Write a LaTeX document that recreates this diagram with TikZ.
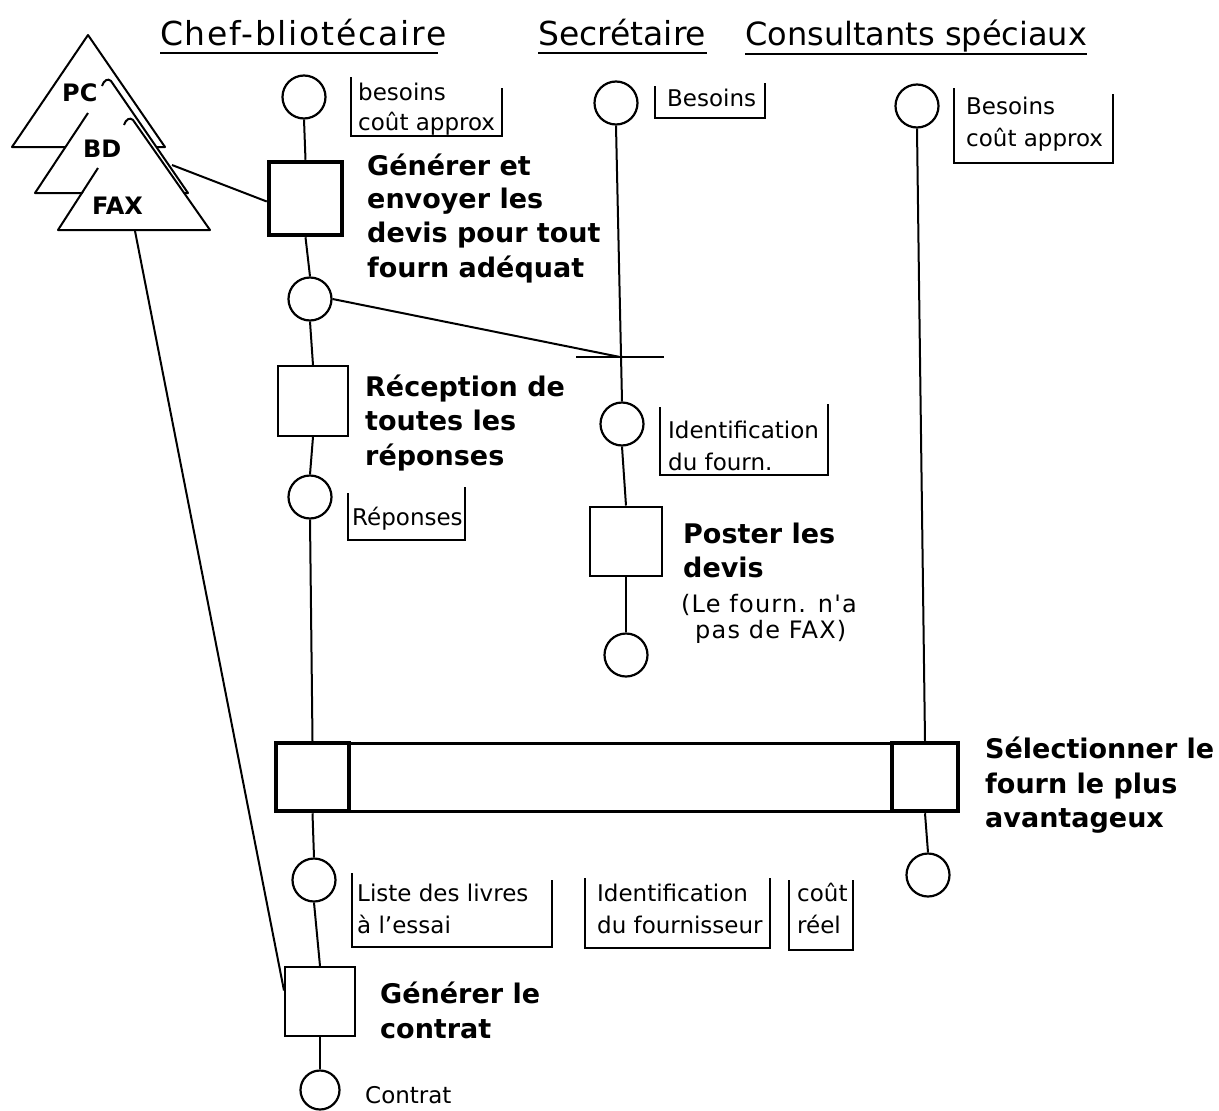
\documentclass[tikz,border=0pt]{standalone}
\usepackage{fontspec}
\setmainfont{DejaVu Sans}
\newfontfamily\widefont[LetterSpace=5]{DejaVu Sans}
\newfontfamily\hdrfont[LetterSpace=5.4]{DejaVu Sans}
\newcommand\myreg{\fontsize{23}{28}\selectfont}
\newcommand\mybold{\fontsize{27}{34}\selectfont\bfseries}
\newcommand\myhdr{\fontsize{33}{40}\selectfont}
\newcommand\myhdrw{\hdrfont\fontsize{33}{40}\selectfont}
\newcommand\myhdrs{\fontsize{32}{40}\selectfont}
\newcommand\mytri{\fontsize{24}{28}\selectfont\bfseries}
\newcommand\mywide{\widefont\fontsize{24}{30}\selectfont}
\begin{document}
\begin{tikzpicture}[x=1pt,y=-1pt,
  ln/.style={line width=2pt},
  tri/.style={line width=2pt,line join=round},
  circ/.style={circle,draw,line width=2.2pt,minimum size=43pt,inner sep=0pt,fill=white},
  actbox/.style={rectangle,draw,line width=2pt,inner sep=0pt,fill=white},
  thickbox/.style={actbox,line width=4.5pt},
  tag/.style={line width=1.6pt},
  reg/.style={font=\myreg,anchor=base west,inner sep=0pt},
  wide/.style={font=\mywide,anchor=base west,inner sep=0pt},
  bld/.style={font=\mybold,anchor=base west,inner sep=0pt},
  trl/.style={font=\mytri,anchor=base west,inner sep=0pt},
  hdr/.style={font=\myhdr,anchor=base west,inner sep=0pt},
  hdrw/.style={font=\myhdrw,anchor=base west,inner sep=0pt},
  hdrs/.style={font=\myhdrs,anchor=base west,inner sep=0pt}
]
\useasboundingbox (0,0) rectangle (1219,1111);

% headers
\node[hdrw] (h1) at (160,45) {Chef-bliotécaire};
\node[hdr] (h2) at (538,45) {Secrétaire};
\node[hdrs] (h3) at (745,45) {Consultants spéciaux};
\draw[line width=1.6pt] (160,53) -- (438,53);
\draw[line width=1.6pt] (538,53) -- (707,53);
\draw[line width=1.6pt] (745,54) -- (1087,54);

% triangles (PC, BD, FAX)
\filldraw[tri,fill=white] (88,35) -- (12,147) -- (165,147) -- cycle;
\fill[white] (111,81) -- (35,193) -- (188,193) -- cycle;
\draw[tri] (88,113) -- (35,193) -- (188,193) -- (111,81) .. controls (108,78) and (104,80) .. (102,86);
\fill[white] (133,120) -- (58,230) -- (210,230) -- cycle;
\draw[tri] (98,168) -- (58,230) -- (210,230) -- (133,120) .. controls (130,117) and (126,119) .. (124,125);
\node[trl] (tpc) at (62,101) {PC};
\node[trl] (tbd) at (83,157) {BD};
\node[trl] (tfax) at (92,214) {FAX};
\coordinate (bde) at (172,165);
\coordinate (faxb) at (135,231);

% lane 1 nodes
\node[circ] (c1) at (304,97) {};
\node[thickbox,minimum width=73pt,minimum height=73pt] (sq1) at (305.5,198.5) {};
\node[circ] (c2) at (310,299) {};
\node[actbox,minimum width=70pt,minimum height=70pt] (sq2) at (313,401) {};
\node[circ] (c3) at (310,497) {};

% lane 2 nodes
\node[circ] (s1) at (616,103) {};
\node[circ] (s2) at (622,424) {};
\node[actbox,minimum width=72pt,minimum height=69pt] (sqp) at (626,541) {};
\node[circ] (s3) at (626,655) {};
\coordinate (tk) at (620,357);

% lane 3 nodes
\node[circ] (k1) at (917,106) {};

% bar
\node[actbox,line width=3pt,minimum width=682pt,minimum height=68pt] (bar) at (617,777) {};
\node[thickbox,minimum width=73pt,minimum height=68pt] (barL) at (312.5,777) {};
\node[thickbox,minimum width=66pt,minimum height=68pt] (barR) at (925,777) {};

% below bar
\node[circ] (c4) at (314,880) {};
\node[actbox,minimum width=70pt,minimum height=69pt] (sqc) at (320,1001.5) {};
\node[circ,minimum size=39pt] (c5) at (320,1090) {};
\node[circ] (k2) at (928,875) {};

% connectors
\draw[ln] (c1.south) -- (sq1.north);
\draw[ln] (sq1.south) -- (c2.north);
\draw[ln] (c2.south) -- (sq2.north);
\draw[ln] (sq2.south) -- (c3.north);
\draw[ln] (c3.south) -- (barL.north);
\draw[ln] (barL.south) -- (c4.north);
\draw[ln] (c4.south) -- (sqc.north);
\draw[ln] (sqc.south) -- (c5.north);
\draw[ln] (s1.south) -- (s2.north);
\draw[ln] (s2.south) -- (sqp.north);
\draw[ln] (sqp.south) -- (s3.north);
\draw[ln] (k1.south) -- (barR.north);
\draw[ln] (barR.south) -- (k2.north);
\draw[ln] (c2.east) -- (tk);
\draw[line width=1.8pt] ([xshift=-44pt]tk) -- ([xshift=44pt]tk);
\draw[ln] (bde) -- ([yshift=-3pt]sq1.west);
\draw[ln] (faxb) -- ([yshift=11pt]sqc.west);

% label brackets
\draw[tag] (351,77) -- (351,136) -- (502,136) -- (502,88);
\draw[tag] (655,86) -- (655,118) -- (765,118) -- (765,83);
\draw[tag] (954,88) -- (954,163) -- (1113,163) -- (1113,94);
\draw[tag] (660,407) -- (660,475) -- (828,475) -- (828,404);
\draw[tag] (348,493) -- (348,540) -- (465,540) -- (465,487);
\draw[tag] (352,873) -- (352,947) -- (552,947) -- (552,880);
\draw[tag] (585,878) -- (585,948) -- (770,948) -- (770,878);
\draw[tag] (789,880) -- (789,950) -- (853,950) -- (853,880);

% regular labels
\node[reg] (t1) at (358,100) {besoins};
\node[reg] (t2) at (358,130) {coût approx};
\node[reg] (t3) at (667,106) {Besoins};
\node[reg] (t4) at (966,114) {Besoins};
\node[reg] (t5) at (966,146) {coût approx};
\node[reg] (t6) at (668,438) {Identification};
\node[reg] (t7) at (668,470) {du fourn.};
\node[reg] (t8) at (352,525) {Réponses};
\node[wide] (t9) at (681,612) {(Le fourn. n'a};
\node[wide] (t10) at (695,638) {pas de FAX)};
\node[reg] (t11) at (357,901) {Liste des livres};
\node[reg] (t12) at (357,933) {à l'essai};
\node[reg] (t13) at (597,901) {Identification};
\node[reg] (t14) at (597,933) {du fournisseur};
\node[reg] (t15) at (797,901) {coût};
\node[reg] (t16) at (797,933) {réel};
\node[reg] (t17) at (365,1103) {Contrat};

% bold labels
\node[bld] (b1) at (367,175) {Générer et};
\node[bld] (b2) at (367,208) {envoyer les};
\node[bld] (b3) at (367,242) {devis pour tout};
\node[bld] (b4) at (367,277) {fourn adéquat};
\node[bld] (b5) at (365,396) {Réception de};
\node[bld] (b6) at (365,430) {toutes les};
\node[bld] (b7) at (365,465) {réponses};
\node[bld] (b8) at (683,543) {Poster les};
\node[bld] (b9) at (683,577) {devis};
\node[bld] (b10) at (985,758) {Sélectionner le};
\node[bld] (b11) at (985,793) {fourn le plus};
\node[bld] (b12) at (985,827) {avantageux};
\node[bld] (b13) at (380,1003) {Générer le};
\node[bld] (b14) at (380,1038) {contrat};
\end{tikzpicture}
\end{document}
